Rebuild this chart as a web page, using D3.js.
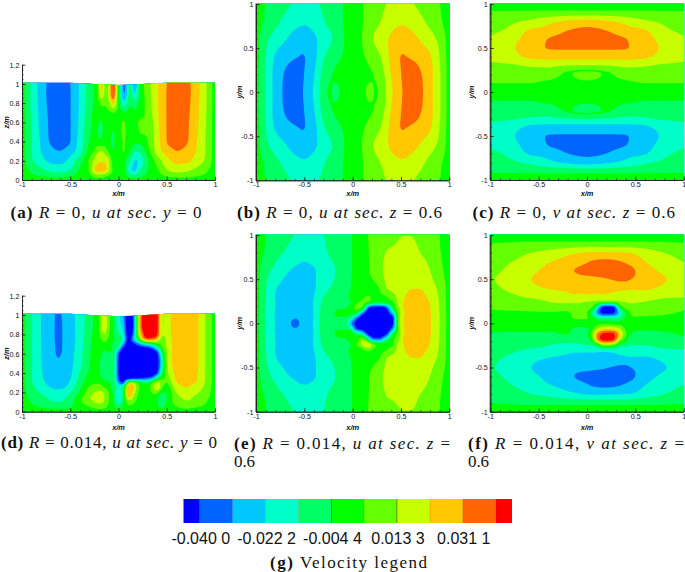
<!DOCTYPE html>
<html>
<head>
<meta charset="utf-8">
<script src="https://cdn.jsdelivr.net/npm/d3@7.9.0/dist/d3.min.js"></script>
<style>
  html, body { margin: 0; background: #fff; }
  svg { display: block; }
  .tick text, .axis-title { font-family: "Liberation Sans", Arial, sans-serif; fill: #111; }
  .cap { font-family: "Liberation Serif", serif; font-size: 17px; fill: #111; }
</style>
</head>
<body>
<svg id="chart" width="685" height="572"></svg>
<script>
// all field values are in 1e-3 m/s
const thresholds = [-40, -31.1, -22.2, -13.3, -4.4, 4.4, 13.3, 22.2, 31.1, 40];
const bandColors = ['#0000ff', '#0064ff', '#00c8ff', '#00ffc8', '#00ff64', '#00ff00', '#64ff00', '#c8ff00', '#ffc800', '#ff6400', '#ff0000'];
const legendTicks = [-40, -22.2, -4.4, 13.3, 31.1];
const legendLabels = ['-0.040 0', '-0.022 2', '-0.004 4', '0.013 3', '0.031 1'];

const surfaceX = [-1, -0.5, -0.25, 0, 0.25, 0.5, 1];
const surfaceZ = [1.012, 1.012, 0.998, 0.988, 0.998, 1.012, 1.012];

// (a) rows top to bottom
const aX = [-1, -.9, -.8, -.7, -.6, -.5, -.4, -.3, -.25, -.21, -.175, -.125, -.09, -.05, 0, .06, .115, .17, .22, .3, .4, .5, .6, .7, .8, .9, 1];
const aZ = [1.02, .9, .8, .7, .6, .5, .4, .3, .2, .1, .05, 0];
const aU = [
  [0, -15, -26.5, -34, -36, -31.1, -21, -9, -3.5, 6, 32, 3, 24, 44, 0, -36, -8, -36, -4, 9, 21, 31, 36, 34, 26.5, 15, 0],
  [0, -15, -26.5, -34.5, -36.5, -31.5, -21, -9, -4, 5, 24, 4, 26, 42, -2, -34, -8, -24, -4, 9, 21, 31.5, 36.5, 34.5, 26.5, 15, 0],
  [0, -15, -26, -34, -36, -31.5, -21, -8, -3.5, 2, 8, 5, 14, 26, 0, -20, -5, -10, -2, 8, 21, 31.5, 36, 34, 26, 15, 0],
  [0, -14.5, -25.5, -33.5, -35.5, -31.5, -20.5, -7, -3, -2, 0, 2, 3, 4.5, 1, -4.5, -1, -3, 1, 7, 20.5, 31.5, 35.5, 33.5, 25.5, 14.5, 0],
  [0, -14, -25, -33, -35, -31.5, -20, -6, -3, -4, -5, -1, 0, -2, 3, 5, 1, 3, 5, 6, 20, 31.5, 35, 33, 25, 14, 0],
  [0, -13.8, -24.5, -33, -35, -31.5, -19, -5.5, -3, -5, -5.5, -1, -3, -5, 2, 5.5, 1, 2, 4.8, 5.5, 19, 31.5, 35, 33, 24.5, 13.8, 0],
  [0, -13.5, -23.5, -32.5, -34.5, -31.3, -18, -4, 1, -2, -3, 1, -3, -6, 1, 5, 0, -2, -2, 4, 18, 31.3, 34.5, 32.5, 23.5, 13.5, 0],
  [0, -13.3, -22.5, -28.5, -31, -26, -17, 0, 5, 13, 14, 7, 0, -4.5, 1, 5, -3, -13, -12, 0, 17, 26, 31, 28.5, 22.5, 13.3, 0],
  [0, -12, -19, -24.5, -25, -19, -8, 6, 15, 21, 21, 21, 12, -3, 0, -2, -12, -23, -20, -6, 8, 19, 25, 24.5, 19, 12, 0],
  [0, -6, -11, -15, -16.5, -13, -3, 5, 23, 26, 26, 24, 12, 2, 0, -2, -19, -25, -14, -5, 3, 13, 16.5, 15, 11, 6, 0],
  [0, -3.5, -6, -8, -8.5, -6, -1, 3, 8, 12, 11, 6, 3, 1, 0, -1, -9, -12, -8, -3, 1, 6, 8.5, 8, 6, 3.5, 0],
  [0, 0, 0, 0, 0, 0, 0, 0, 0, 0, 0, 0, 0, 0, 0, 0, 0, 0, 0, 0, 0, 0, 0, 0, 0, 0, 0]
];

// (b) rows top to bottom
const bX = [-1, -.9, -.8, -.7, -.6, -.5, -.4, -.3, -.25, -.17, -.1, 0, .1, .17, .25, .3, .4, .5, .6, .7, .8, .9, 1];
const bY = [1, .8, .6, .4, .2, 0, -.2, -.4, -.6, -.8, -1];
const bU = [
  [0, -4.6, -8, -11, -14.2, -16, -15, -11.5, -10, -7.5, -4.4, -1, 4, 7.5, 10, 11.5, 15, 16, 14.2, 11, 8, 4.6, 0],
  [0, -6, -11, -15.5, -19, -21, -18.5, -13.8, -11.5, -7.5, -4.4, -1, 4, 7.5, 11.5, 13.8, 18.5, 21, 19, 15.5, 11, 6, 0],
  [0, -11, -17, -21.5, -26, -28, -24, -18, -15.5, -11, -5, -1, 4.5, 11, 15.5, 18, 24, 28, 26, 21.5, 17, 11, 0],
  [0, -13.3, -23.5, -28, -30.5, -31.5, -25, -14, -10.5, -6, -4, -1, 3.5, 6, 10.5, 14, 25, 31.5, 30.5, 28, 23.5, 13.3, 0],
  [0, -14.5, -25, -32, -35, -31, -23, -9.5, -5.5, -3.5, -2.5, -.5, 2.5, 3.5, 5.5, 9.5, 23, 31, 35, 32, 25, 14.5, 0],
  [0, -14.5, -25, -33, -36, -30, -21, -7, -3.5, -6, -2.5, -.2, 2.5, 6, 3.5, 7, 21, 30, 36, 33, 25, 14.5, 0],
  [0, -14.5, -25, -32, -35, -31, -23, -9.5, -5.5, -3.5, -2.5, -.5, 2.5, 3.5, 5.5, 9.5, 23, 31, 35, 32, 25, 14.5, 0],
  [0, -13.3, -23.5, -28, -30.5, -31.5, -25, -14, -10.5, -6, -4, -1, 3.5, 6, 10.5, 14, 25, 31.5, 30.5, 28, 23.5, 13.3, 0],
  [0, -11, -17, -21.5, -26, -28, -24, -18, -15.5, -11, -5, -1, 4.5, 11, 15.5, 18, 24, 28, 26, 21.5, 17, 11, 0],
  [0, -6, -11, -15.5, -19, -21, -18.5, -13.8, -11.5, -7.5, -4.4, -1, 4, 7.5, 11.5, 13.8, 18.5, 21, 19, 15.5, 11, 6, 0],
  [0, -4.6, -8, -11, -14.2, -16, -15, -11.5, -10, -7.5, -4.4, -1, 4, 7.5, 10, 11.5, 15, 16, 14.2, 11, 8, 4.6, 0]
];

// (c) columns left to right
const cX = [-1, -.8, -.6, -.4, -.2, 0, .2, .4, .6, .8, 1];
const cY = [1, .92, .8, .7, .6, .5, .4, .3, .25, .2, .1, 0, -.1, -.2, -.25, -.3, -.4, -.5, -.6, -.7, -.8, -.92, -1];
const cV = [
  [1, 4.4, 8.5, 11.5, 14, 16, 14.5, 12, 10, 8.5, 4.4, 0, -4.4, -8.5, -10, -12, -14.5, -16, -14, -11.5, -8.5, -4.4, -1],
  [1, 4.4, 11.5, 15, 18.5, 20.5, 18, 12, 10, 8, 4.4, 0, -4.4, -8, -10, -12, -18, -20.5, -18.5, -15, -11.5, -4.4, -1],
  [1, 4.5, 15, 23, 26, 27, 24, 14, 11, 8, 4.4, 0, -4.4, -8, -11, -14, -24, -27, -26, -23, -15, -4.5, -1],
  [1, 4.6, 20, 25, 31.5, 31.5, 25.5, 15, 11, 7.5, 3, 0, -3, -7.5, -11, -15, -25.5, -31.5, -31.5, -25, -20, -4.6, -1],
  [1, 4.6, 24, 31, 35, 32, 26, 13.3, 5, 3.5, 2.5, 0, -2.5, -3.5, -5, -13.3, -26, -32, -35, -31, -24, -4.6, -1],
  [1, 4.6, 26, 33, 36, 32, 26, 13, 2.5, 9, 2, 0, -2, -9, -2.5, -13, -26, -32, -36, -33, -26, -4.6, -1],
  [1, 4.6, 24, 31, 35, 32, 26, 13.3, 5, 3.5, 2.5, 0, -2.5, -3.5, -5, -13.3, -26, -32, -35, -31, -24, -4.6, -1],
  [1, 4.6, 20, 25, 31.5, 31.5, 25.5, 15, 11, 7.5, 3, 0, -3, -7.5, -11, -15, -25.5, -31.5, -31.5, -25, -20, -4.6, -1],
  [1, 4.5, 15, 23, 26, 27, 24, 14, 11, 8, 4.4, 0, -4.4, -8, -11, -14, -24, -27, -26, -23, -15, -4.5, -1],
  [1, 4.4, 11.5, 15, 18.5, 20.5, 18, 12, 10, 8, 4.4, 0, -4.4, -8, -10, -12, -18, -20.5, -18.5, -15, -11.5, -4.4, -1],
  [1, 4.4, 8.5, 11.5, 14, 16, 14.5, 12, 10, 8.5, 4.4, 0, -4.4, -8.5, -10, -12, -14.5, -16, -14, -11.5, -8.5, -4.4, -1]
];

// (d) rows top to bottom
const dX = [-1, -.9, -.8, -.7, -.64, -.58, -.5, -.4, -.3, -.2, -.15, -.1, -.05, 0, .05, .1, .15, .2, .25, .3, .35, .4, .45, .5, .6, .7, .8, .9, 1];
const dZ = [1.02, .9, .8, .75, .7, .65, .6, .5, .4, .35, .3, .25, .2, .15, .1, .05, 0];
const dU = [
  [0, -13.3, -22.5, -28, -32, -30.5, -26, -18, -8, 4, 24, 6, -4, -18, -30, -50, -40, 10, 45, 50, 50, 45, 12, 18, 27, 29, 25, 13.3, 0],
  [0, -13.3, -22.5, -28, -32.5, -31, -26, -18, -8, 4, 23, 6, -4, -20, -25, -52, -42, 10, 45, 50, 50, 45, 12, 18, 27, 29, 25, 13.3, 0],
  [0, -13.3, -22.5, -28, -32.5, -31, -26, -18, -7, 3, 14, 4, -4, -12, -20, -50, -38, 8, 36, 48, 48, 43, 14, 18, 27, 29, 25, 13.3, 0],
  [0, -13.3, -22.4, -28, -32.5, -31, -26, -18, -6.5, 2, 7, 3, -4, -8, -14, -48, -28, -5, 25, 38, 35, 25, 8, 16, 27, 29, 25, 13.3, 0],
  [0, -13.3, -22.3, -28, -32, -31, -26, -17.5, -6, 1, 3, 1, -6, -6, -30, -48, -45, -35, -25, -15, -8, 3, 8, 15, 27, 29, 25, 13.3, 0],
  [0, -13.3, -22.2, -28, -32, -31, -26, -17, -5.5, 0, -3, -2, -6, -20, -46, -50, -50, -48, -48, -48, -40, -25, 0, 14, 26.5, 29, 25, 13.3, 0],
  [0, -13.2, -22.2, -28, -31.5, -30.8, -25.5, -16.5, -5, -1, -8, -5, -7, -40, -52, -55, -55, -55, -55, -52, -50, -44, -10, 13, 26.5, 29, 25, 13.3, 0],
  [0, -13, -22, -27.5, -30.5, -30, -25, -15.5, -4.6, -3, -14, -7, -8, -42, -55, -58, -58, -58, -58, -55, -52, -46, -20, 13, 26, 29, 25, 13.3, 0],
  [0, -13, -21.5, -27, -29, -28.5, -24, -13, -3.5, -3, -14, -6, -9, -42, -52, -55, -55, -55, -55, -50, -48, -42, -8, 10, 25, 27.5, 24, 13, 0],
  [0, -13, -21, -26, -28, -27.5, -23, -11, -2, -1, -7, -5, -8, -40, -50, -50, -48, -46, -42, -38, -35, -10, 1, 8, 24, 26, 23.5, 13, 0],
  [0, -12.5, -20, -25, -26.5, -26, -21, -9, 1, 3, -2, -4, -8, -30, -42, 12, 18, 4, -4, -8, 6, 16, 10, 4, 22.5, 23, 22.5, 12.5, 0],
  [0, -11, -17, -22.5, -24, -23.5, -18, -6, 6, 10, 5, -1, -8, -15, -8, 28, 26, 6, 3, 3, 8, 23, 6, -2, 18, 22.5, 19, 11, 0],
  [0, -9, -14, -18, -19, -18.5, -14, -4, 10, 15, 13, 4, -6, -22, -9, 32, 22, 5, 2, 2, 5, 8, -4, -4, 14, 17, 15, 9, 0],
  [0, -7, -11.5, -15, -16, -15, -10, 1, 13, 18, 14, 5, -5, -24, -8, 25, 14, 3, 1, 1, 2, -2, -13, -4, 10, 15, 12, 7, 0],
  [0, -5, -9, -12.5, -13.3, -13, -9, 3, 10, 16, 13, 4, -4, -18, -6, 9, 6, 2, 1, 0, 0, -2, -14, -3, 8, 12.5, 10, 5, 0],
  [0, -3, -5, -6.5, -7, -7, -5, -1, 4, 8, 7, 2, -3, -7, -3, 3, 3, 1, 0, 0, 0, -2, -7, -2, 4, 7, 5, 3, 0],
  [0, 0, 0, 0, 0, 0, 0, 0, 0, 0, 0, 0, 0, 0, 0, 0, 0, 0, 0, 0, 0, 0, 0, 0, 0, 0, 0, 0, 0]
];

// (e) rows top to bottom
const eX = [-1, -.9, -.8, -.7, -.62, -.5, -.4, -.3, -.2, -.14, -.08, -.02, .04, .1, .16, .22, .28, .34, .42, .46, .52, .6, .7, .8, .9, 1];
const eY = [1, .8, .6, .4, .3, .24, .18, .12, .06, 0, -.06, -.12, -.18, -.24, -.3, -.4, -.6, -.8, -1];
const eU = [
  [0, -4.4, -7.5, -10.5, -12.8, -15, -15, -13.3, -10, -8.5, -7, -5, -2, 2, 4.5, 5.5, 7, 8.5, 10, 11.5, 13, 13, 11, 8.5, 4.4, 0],
  [0, -5.5, -10.5, -14, -16.5, -19, -17, -14.8, -11, -9.5, -7.5, -5, -2, 1.5, 4.2, 6, 8.5, 13.5, 15, 16, 17.5, 17, 13.3, 10, 5, 0],
  [0, -10, -15.5, -20.5, -23, -25, -23, -18, -14.5, -11, -8, -5, -2, 1.5, 4, 6.5, 11, 15, 17.5, 19.5, 21, 21.5, 19, 13.3, 7, 0],
  [0, -12.5, -21.5, -25, -27, -27.5, -23.5, -16, -12, -9.5, -7, -4.5, -1.5, .5, 2, 3, 4.4, 12.5, 17, 19, 21, 22, 22, 17, 11, 0],
  [0, -13, -22.5, -26, -28, -28.5, -22, -13, -9, -7.5, -6, -3.5, -3, 3, 5, 3, 2.5, 3.5, 8, 15, 21, 24, 25, 20, 12, 0],
  [0, -13.5, -22, -26.5, -29, -29.5, -21.5, -11, -8, -7, -6, -5, 2, 6, 6, 0, -1, 2, 3.5, 13.3, 22, 25, 26, 22, 12.5, 0],
  [0, -13.5, -22.3, -27, -29.5, -29.5, -21.5, -10, -5.5, -5, -5, -2, 8, 7, -38, -48, -48, -42, -3, 8, 22.5, 25.5, 26.5, 22.5, 13, 0],
  [0, -14, -22.5, -27, -30, -29.5, -21.5, -9, -4.8, -3.5, -3, 0, -3, -30, -50, -55, -55, -50, -20, 4.4, 20, 26, 27, 23, 13.3, 0],
  [0, -14.2, -22.8, -27, -30.8, -29.5, -21.5, -8, -4.5, -5, -4.8, -12, -35, -50, -55, -58, -58, -55, -42, 0, 21.5, 26, 27, 23, 13.5, 0],
  [0, -14, -22.3, -27, -32, -29, -21, -7.5, -5, -14, -6, -30, -45, -50, -54, -56, -56, -54, -42, 2, 21.5, 26, 27, 23, 13.5, 0],
  [0, -14.2, -22.8, -27, -30.8, -29.5, -21.5, -8, -4.5, -5, -4.8, -10, -42, -46, -55, -58, -58, -55, -30, 1, 21.5, 26, 27, 23, 13.5, 0],
  [0, -14, -22.5, -27, -30, -29.5, -21.5, -9, -4.8, -3.5, -3, 0, -5, -15, -44, -52, -52, -46, -3, 4.4, 20, 26, 27, 23, 13.3, 0],
  [0, -13.5, -22.3, -27, -29.5, -29.5, -21.5, -10, -5.5, -5, -5, -2, -5, 14, -10, -35, -35, -15, 3, 8, 22.5, 25.5, 26.5, 22.5, 13, 0],
  [0, -13.5, -22, -26.5, -29, -29.5, -21.5, -11, -8, -7, -6, -5, 5, 16, 24, 8, 3, 2.5, 3.5, 13.3, 22, 25, 26, 22, 12.5, 0],
  [0, -13, -22.5, -26, -28, -28.5, -22, -13, -9, -7.5, -6, -3.5, -3, 2, 6, 2, 2.5, 3.5, 8, 15, 21, 24, 25, 20, 12, 0],
  [0, -12.5, -21.5, -25, -27, -27.5, -23.5, -16, -12, -9.5, -7, -4.5, -1.5, .5, 2, 3, 4.4, 12.5, 17, 19, 21, 22, 22, 17, 11, 0],
  [0, -10, -15.5, -20.5, -23, -25, -23, -18, -14.5, -11, -8, -5, -2, 1.5, 4, 6.5, 11, 15, 17.5, 19.5, 21, 21.5, 19, 13.3, 7, 0],
  [0, -5.5, -10.5, -14, -16.5, -19, -17, -14.8, -11, -9.5, -7.5, -5, -2, 1.5, 4.2, 6, 8.5, 13.5, 15, 16, 17.5, 17, 13.3, 10, 5, 0],
  [0, -4.4, -7.5, -10.5, -12.8, -15, -15, -13.3, -10, -8.5, -7, -5, -2, 2, 4.5, 5.5, 7, 8.5, 10, 11.5, 13, 13, 11, 8.5, 4.4, 0]
];

// (f) columns left to right
const fX = [-1, -.8, -.6, -.4, -.2, -.14, -.08, -.02, .04, .1, .16, .22, .28, .34, .4, .46, .6, .8, 1];
const fY = [1, .92, .8, .7, .6, .5, .4, .3, .24, .18, .12, .06, 0, -.06, -.12, -.18, -.24, -.3, -.4, -.5, -.6, -.7, -.8, -.92, -1];
const fV = [
  [1, 4, 6.5, 8.5, 10.5, 12.5, 11, 9, 8, 5, 3.5, 1.5, -1, -3, -5, -6.5, -8, -9.5, -11, -12.5, -10.5, -8.5, -6.5, -4, -1],
  [1.5, 4.2, 10, 12.8, 15, 16.5, 15, 11.5, 10, 6, 3.5, 1.5, -1, -3, -5.5, -7.5, -10, -11.5, -15, -16.5, -15, -12.8, -10, -4.2, -1.5],
  [1.5, 4.6, 13, 16, 19, 21.5, 19, 14, 11, 7, 3.5, 1.5, -1, -3, -5.5, -8, -11, -14, -19, -21.5, -19, -16, -13, -4.6, -1.5],
  [1.5, 4.6, 16, 21.5, 25, 27, 23, 15, 13.3, 9, 3.5, 1.5, -1, -3, -5.5, -8.5, -13, -15, -23, -27, -25, -21.5, -16, -4.6, -1.5],
  [1.5, 4.6, 20, 25, 29.5, 27, 25, 19, 15, 7, 3.5, 2, -1, -3, -4, -8, -15, -19, -25, -27, -29.5, -25, -20, -4.6, -1.5],
  [1.5, 4.6, 21, 26, 31, 27.5, 26, 20, 15, 7.5, 6, 5, 0, -5, -6, -8, -15, -20, -26, -27.5, -31, -26, -21, -4.6, -1.5],
  [1.5, 4.6, 22, 27.5, 33, 28, 26, 20, 15, 7, 6.5, 5.5, 0, -6, -6.5, -7, -15, -20, -26, -28, -33, -27.5, -22, -4.6, -1.5],
  [1.5, 4.6, 23, 29.5, 34, 28.5, 26, 20, 13, 6.5, 7, 5.5, 0, -6, -8, -6.5, -13, -20, -26, -28.5, -34, -29.5, -23, -4.6, -1.5],
  [1.5, 4.6, 23.5, 31.5, 34.5, 29, 26, 20, 12, 8, -6, 2, 1, -3, 4, -3, -12, -20, -26, -29, -34.5, -31.5, -23.5, -4.6, -1.5],
  [1.5, 4.6, 23.5, 32.5, 35, 29.5, 25, 20, 10, -15, -30, -8, 0, 12, 30, 32, -6, -20, -25, -29.5, -35, -32.5, -23.5, -4.6, -1.5],
  [1.5, 4.6, 23.5, 33, 35, 30, 25, 20, 8, -45, -44, -12, 1, 20, 42, 44, 15, -20, -25, -30, -35, -33, -23.5, -4.6, -1.5],
  [1.5, 4.6, 23, 33, 35, 31, 25, 19.5, 8, -48, -45, -12, 2, 22, 44, 46, 14, -19.5, -25, -31, -35, -33, -23, -4.6, -1.5],
  [1.5, 4.6, 23, 32.5, 35, 32, 24.5, 19, 9, -44, -42, -13, 0, 20, 42, 42, 10, -19, -24.5, -32, -35, -32.5, -23, -4.6, -1.5],
  [1.5, 4.6, 23, 31.5, 34.5, 33, 24.5, 18, 12, -5, -22, -10, 0, 14, 24, 16, -8, -18, -24.5, -33, -34.5, -31.5, -23, -4.6, -1.5],
  [1.5, 4.6, 22.5, 30, 34, 33, 24, 18, 13.5, 8, -4, -2, 0, 2, 6, 0, -10, -18, -24, -33, -34, -30, -22.5, -4.6, -1.5],
  [1.5, 4.6, 22, 28, 33, 31, 23.5, 17.5, 14, 11, 5.5, 4, 1, -3, -5, -9, -13, -17.5, -23.5, -31, -33, -28, -22, -4.6, -1.5],
  [1.5, 4.6, 18, 22.2, 26, 27, 24, 16, 13, 10, 6, 3.5, 0, -3.5, -6, -10, -13, -16, -24, -27, -26, -22.2, -18, -4.6, -1.5],
  [1.5, 4.4, 13.3, 17, 20, 23, 20, 14, 11.5, 9, 5.5, 3, -.5, -3, -5.5, -9, -11.5, -14, -20, -23, -20, -17, -13.3, -4.4, -1.5],
  [1, 4, 9.5, 13, 15, 16, 15, 13.5, 11, 6, 3.5, 2, -1, -2, -3.5, -6, -11, -13.5, -15, -16, -15, -13, -9.5, -4, -1]
];

const xTicks = [-1, -0.5, 0, 0.5, 1];
const xMinor = d3.range(-10, 11).map(d => d / 10);
const zTicks = [0, 0.2, 0.4, 0.6, 0.8, 1, 1.2];
const zMinor = d3.range(0, 25).map(d => d / 20);
const yTicks = [-1, -0.5, 0, 0.5, 1];
const yMinor = d3.range(-10, 11).map(d => d / 10);

const svg = d3.select('#chart');

// cubic through one row or column of the read-off grid; tangents limited so steep
// edges don't ring too much, but peaks stay round
function tangents(xs, vs) {
  const n = xs.length, sec = [], m = new Array(n);
  for (let i = 0; i < n - 1; i++) sec.push((vs[i + 1] - vs[i]) / (xs[i + 1] - xs[i]));
  m[0] = sec[0];
  m[n - 1] = sec[n - 2];
  for (let i = 1; i < n - 1; i++) {
    const central = (vs[i + 1] - vs[i - 1]) / (xs[i + 1] - xs[i - 1]);
    const lim = Math.min(Math.abs(sec[i - 1]), Math.abs(sec[i])) * (sec[i - 1] * sec[i] > 0 ? 3 : 1);
    m[i] = Math.sign(central) * Math.min(Math.abs(central), lim);
  }
  return m;
}
function sampleLine(xs, vs, targets) {
  const m = tangents(xs, vs);
  return targets.map(t => {
    const a = Math.min(Math.max(d3.bisectRight(xs, t), 1), xs.length - 1);
    const h = xs[a] - xs[a - 1], s = (t - xs[a - 1]) / h;
    const s2 = s * s, s3 = s2 * s;
    return (2 * s3 - 3 * s2 + 1) * vs[a - 1] + (s3 - 2 * s2 + s) * h * m[a - 1]
      + (-2 * s3 + 3 * s2) * vs[a] + (s3 - s2) * h * m[a];
  });
}

// resample the grid to one cell per pixel, so the contours come out smooth
function resample(xs, ys, rows, w, h, blur) {
  const gx = d3.scaleLinear().domain([0, w - 1]).range([xs[0], xs[xs.length - 1]]);
  const gy = d3.scaleLinear().domain([0, h - 1]).range([ys[0], ys[ys.length - 1]]);
  const xTargets = d3.range(w).map(gx);
  const yTargets = d3.range(h).map(gy);
  const ysUp = ys.slice().reverse();
  const denseRows = rows.map(r => sampleLine(xs, r, xTargets));
  const data = new Float64Array(w * h);
  for (let i = 0; i < w; i++) {
    const col = denseRows.map(r => r[i]).reverse();
    sampleLine(ysUp, col, yTargets).forEach((v, j) => { data[j * w + i] = v; });
  }
  d3.blur2({ data, width: w, height: h }, blur);
  return { data, gx, gy };
}

function panel(cfg) {
  const g = svg.append('g');
  const x = d3.scaleLinear().domain([-1, 1]).range(cfg.xRange);
  const y = d3.scaleLinear().domain(cfg.yDomain).range(cfg.yRange);
  const w = Math.round(cfg.xRange[1] - cfg.xRange[0]) + 1;
  const top = cfg.ys[0], bottom = cfg.ys[cfg.ys.length - 1];
  const h = Math.round(y(bottom) - y(top)) + 1;
  const { data, gx, gy } = resample(cfg.xs, cfg.ys, cfg.rows, w, h, cfg.blur);

  const project = d3.geoTransform({
    point(px, py) { this.stream.point(x(gx(px - 0.5)), y(gy(py - 0.5))); }
  });
  const path = d3.geoPath(project);
  const contours = d3.contours().size([w, h]).thresholds(thresholds)(data);

  const field = g.append('g');
  if (cfg.surface) {
    const area = d3.area().x((d, i) => x(surfaceX[i])).y0(y(0)).y1(d => y(d));
    const id = 'clip-' + cfg.name;
    g.append('clipPath').attr('id', id).append('path').attr('d', area(surfaceZ));
    field.attr('clip-path', `url(#${id})`);
  }
  field.append('rect')
    .attr('x', x(-1)).attr('y', y(top))
    .attr('width', x(1) - x(-1)).attr('height', y(bottom) - y(top))
    .attr('fill', bandColors[0]);
  field.selectAll('path').data(contours).join('path')
    .attr('d', path)
    .attr('fill', (d, i) => bandColors[i + 1]);

  // axes, tecplot style: ticks point into the plot
  const tf = d => String(d);
  const bx = g.append('g').attr('transform', `translate(0,${y(cfg.yDomain[0])})`);
  bx.call(d3.axisBottom(x).tickValues(xMinor).tickSizeInner(-1.5).tickSizeOuter(0).tickFormat(''));
  bx.append('g').call(d3.axisBottom(x).tickValues(xTicks).tickSizeInner(-3.5).tickSizeOuter(0).tickPadding(2).tickFormat(tf));
  const ly = g.append('g').attr('transform', `translate(${x(-1)},0)`);
  ly.call(d3.axisLeft(y).tickValues(cfg.yMinor).tickSizeInner(-1.5).tickSizeOuter(0).tickFormat(''));
  ly.append('g').call(d3.axisLeft(y).tickValues(cfg.yTicks).tickSizeInner(-3.5).tickSizeOuter(0).tickPadding(2.5).tickFormat(tf));
  g.selectAll('.tick text').attr('font-size', 7.2).attr('font-family', '"Liberation Sans", sans-serif');
  g.selectAll('.domain, .tick line').attr('stroke', '#222').attr('stroke-width', 0.8);

  g.append('text').attr('class', 'axis-title')
    .attr('x', (cfg.xRange[0] + cfg.xRange[1]) / 2).attr('y', cfg.xTitleY)
    .attr('text-anchor', 'middle').attr('font-size', 7.4).attr('font-weight', 'bold').attr('font-style', 'italic')
    .text('x/m');
  g.append('text').attr('class', 'axis-title')
    .attr('transform', `translate(${cfg.yTitleX},${(y(cfg.yTitleAt))}) rotate(-90)`)
    .attr('text-anchor', 'middle').attr('font-size', 7.4).attr('font-weight', 'bold').attr('font-style', 'italic')
    .text(cfg.yTitle);
}

panel({ name: 'a', xs: aX, ys: aZ, rows: aU, blur: 0.6, surface: true, xRange: [22, 215], yDomain: [0, 1.2], yRange: [180, 64.7], yTicks: zTicks, yMinor: zMinor, xTitleY: 196, yTitleX: 9, yTitleAt: 0.6, yTitle: 'z/m' });
panel({ name: 'b', xs: bX, ys: bY, rows: bU, blur: 1.5, xRange: [256, 449.3], yDomain: [-1, 1], yRange: [180.3, 4], yTicks, yMinor, xTitleY: 196, yTitleX: 242, yTitleAt: 0, yTitle: 'y/m' });
panel({ name: 'c', xs: cX, ys: cY, rows: d3.transpose(cV), blur: 1, xRange: [490.3, 683.7], yDomain: [-1, 1], yRange: [180, 4], yTicks, yMinor, xTitleY: 196, yTitleX: 474, yTitleAt: 0, yTitle: 'y/m' });
panel({ name: 'd', xs: dX, ys: dZ, rows: dU, blur: 0.6, surface: true, xRange: [22, 215], yDomain: [0, 1.2], yRange: [411.7, 295.7], yTicks: zTicks, yMinor: zMinor, xTitleY: 430, yTitleX: 9, yTitleAt: 0.6, yTitle: 'z/m' });
panel({ name: 'e', xs: eX, ys: eY, rows: eU, blur: 0.6, xRange: [256, 449.3], yDomain: [-1, 1], yRange: [411.7, 235], yTicks, yMinor, xTitleY: 430, yTitleX: 242, yTitleAt: 0, yTitle: 'y/m' });
panel({ name: 'f', xs: fX, ys: fY, rows: d3.transpose(fV), blur: 0.6, xRange: [490.3, 683.7], yDomain: [-1, 1], yRange: [411.7, 235], yTicks, yMinor, xTitleY: 430, yTitleX: 474, yTitleAt: 0, yTitle: 'y/m' });

// captions: [bold tag, rest of the line as [text, italic?] pieces]
const captionPieces = [
  { tag: '(a)', parts: [['R', 1], [' = 0, ', 0], ['u at sec. y', 1], [' = 0', 0]], x: 10.5, end: 201.5, y: 218 },
  { tag: '(b)', parts: [['R', 1], [' = 0, ', 0], ['u at sec. z', 1], [' = 0.6', 0]], x: 237, end: 442, y: 218 },
  { tag: '(c)', parts: [['R', 1], [' = 0, ', 0], ['v at sec. z', 1], [' = 0.6', 0]], x: 472.5, end: 675, y: 218 },
  { tag: '(d)', parts: [['R', 1], [' = 0.014, ', 0], ['u at sec. y', 1], [' = 0', 0]], x: 1, end: 217, y: 448 },
  { tag: '(e)', parts: [['R', 1], [' = 0.014, ', 0], ['u at sec. z', 1], [' =', 0]], x: 234, end: 450, y: 449 },
  { tag: '(f)', parts: [['R', 1], [' = 0.014, ', 0], ['v at sec. z', 1], [' =', 0]], x: 468, end: 684, y: 449 },
  { tag: '(g)', parts: [['Velocity legend', 0]], x: 270, end: 427, y: 567.5 }
];
const captionWrap = [
  { text: '0.6', x: 234, end: 255, y: 467 },
  { text: '0.6', x: 468, end: 489, y: 467 }
];

captionPieces.forEach(c => {
  const t = svg.append('text').attr('class', 'cap').attr('x', c.x).attr('y', c.y)
    .attr('textLength', c.end - c.x).attr('lengthAdjust', 'spacing');
  t.append('tspan').attr('font-weight', 'bold').text(c.tag + ' ');
  c.parts.forEach(p => t.append('tspan').attr('font-style', p[1] ? 'italic' : 'normal').text(p[0]));
});
captionWrap.forEach(c => {
  svg.append('text').attr('class', 'cap').attr('x', c.x).attr('y', c.y)
    .attr('textLength', c.end - c.x).text(c.text);
});

// colour legend
const legendX = d3.scaleLinear().domain([-44.4, 44.4]).range([183.5, 512]);
const legendEdges = [-44.4].concat(thresholds, [44.4]);
svg.append('g').selectAll('rect').data(bandColors).join('rect')
  .attr('x', (d, i) => legendX(legendEdges[i]))
  .attr('y', 499).attr('height', 24)
  .attr('width', (d, i) => legendX(legendEdges[i + 1]) - legendX(legendEdges[i]))
  .attr('fill', d => d);
svg.append('g').selectAll('line').data(thresholds).join('line')
  .attr('x1', d => legendX(d)).attr('x2', d => legendX(d))
  .attr('y1', 499).attr('y2', 523)
  .attr('stroke', '#000').attr('stroke-width', 0.6)
  .attr('stroke-opacity', d => (d === -4.4 || d === 13.3) ? 0.7 : 0.2);
svg.append('g').selectAll('text').data(legendTicks).join('text')
  .attr('x', d => legendX(d) + 1).attr('y', 543.5)
  .attr('text-anchor', 'middle')
  .attr('font-family', '"Liberation Sans", sans-serif').attr('font-size', 16).attr('fill', '#111')
  .text((d, i) => legendLabels[i]);
</script>
</body>
</html>
